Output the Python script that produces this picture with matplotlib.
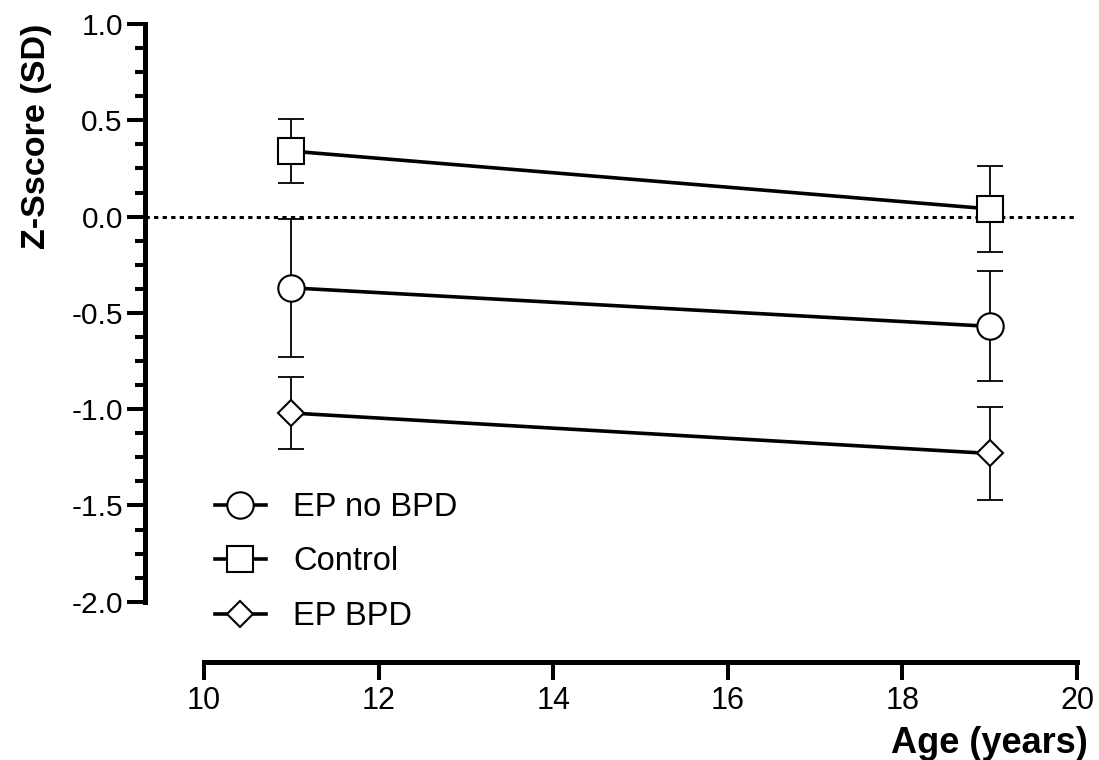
import matplotlib.pyplot as plt
import numpy as np
from matplotlib.ticker import FixedLocator

# data (mean +/- SD)
ages = [11, 19]
groups = ["EP no BPD", "Control", "EP BPD"]
no_bpd_mean = [-0.37, -0.57]
no_bpd_sd = [0.36, 0.285]
control_mean = [0.34, 0.04]
control_sd = [0.165, 0.225]
bpd_mean = [-1.02, -1.23]
bpd_sd = [0.185, 0.24]

plt.rcParams['font.family'] = ['Liberation Sans', 'DejaVu Sans']

fig = plt.figure(figsize=(10.99, 7.6), dpi=100)
ax = fig.add_axes([145/1099, 98/760, 932/1099, 638/760])

ax.axhline(0, color='black', lw=2.2, ls=(0, (1.4, 1.4)), zorder=1)

series = [(no_bpd_mean, no_bpd_sd, 'o', 19),
          (control_mean, control_sd, 's', 18.5),
          (bpd_mean, bpd_sd, 'D', 13.5)]
for (m, sd, mk, ms), name in zip(series, groups):
    ax.errorbar(ages, m, yerr=sd, fmt='none', ecolor='black', elinewidth=1.3,
                capsize=9.5, capthick=1.3, zorder=2, clip_on=False)
    ax.plot(ages, m, color='black', lw=2.6, marker=mk, ms=ms, mfc='white',
            mec='black', mew=1.5, label=name, zorder=3, clip_on=False)

ax.set_xlim(9.324, 20)
ax.set_ylim(-2.313, 1.0)
ax.spines['top'].set_visible(False)
ax.spines['right'].set_visible(False)
ax.spines['left'].set_bounds(-2, 1)
ax.spines['bottom'].set_bounds(10, 20)
ax.spines['left'].set_linewidth(3.6)
ax.spines['bottom'].set_linewidth(3.6)

ax.set_xticks([10, 12, 14, 16, 18, 20])
ax.set_yticks([-2.0, -1.5, -1.0, -0.5, 0.0, 0.5, 1.0])
ax.set_yticklabels(['-2.0', '-1.5', '-1.0', '-0.5', '0.0', '0.5', '1.0'])
ax.yaxis.set_minor_locator(FixedLocator(np.arange(-2.0, 1.01, 0.125)))
ax.tick_params(axis='y', which='major', length=13, width=2.9, labelsize=21.5, pad=3)
ax.tick_params(axis='y', which='minor', length=7, width=2.9)
ax.tick_params(axis='x', which='major', length=13, width=2.9, labelsize=22, pad=4)

ax.set_xlabel('Age (years)', fontsize=26, fontweight='bold')
ax.xaxis.set_label_coords(1.012, -0.127)
ax.xaxis.label.set_ha('right')
ax.xaxis.label.set_va('center')

ax.set_ylabel('Z-Sscore (SD)', fontsize=24.5, fontweight='bold')
ax.yaxis.set_label_coords(-0.116, 1.0)
ax.yaxis.label.set_ha('right')
ax.yaxis.label.set_va('center')

ax.legend(loc='upper left', bbox_to_anchor=(215/1099, 1 - 492/760),
          bbox_transform=fig.transFigure, frameon=False, fontsize=23.5,
          handlelength=1.55, handletextpad=0.85, labelspacing=0.72,
          borderpad=0, borderaxespad=0)

fig.savefig('out.png', dpi=100)
